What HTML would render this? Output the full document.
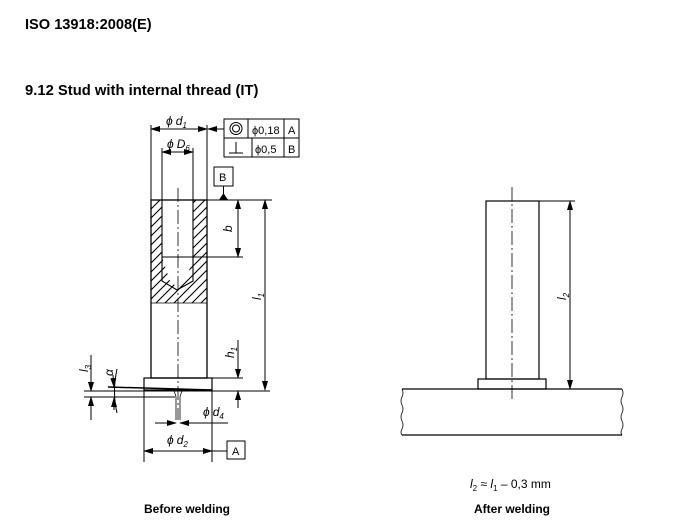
<!DOCTYPE html>
<html><head><meta charset="utf-8"><style>
html,body{margin:0;padding:0;background:#fff;width:700px;height:527px;overflow:hidden}
svg{display:block}
text{font-family:"Liberation Sans",sans-serif;fill:#000}
</style></head><body>
<svg width="700" height="527" viewBox="0 0 700 527" xmlns="http://www.w3.org/2000/svg">
<defs>
<pattern id="h" width="9" height="9" patternUnits="userSpaceOnUse">
<path d="M-1,10 L10,-1 M-2,2 L2,-2 M7,11 L11,7" stroke="#000" stroke-width="1.1"/></pattern>
<marker id="a" markerWidth="10" markerHeight="6" refX="9" refY="3" orient="auto" markerUnits="userSpaceOnUse"><path d="M0,0 L10,3 L0,6z" fill="#000"/></marker>
</defs>
<text x="25" y="29" font-size="14.6" font-weight="bold">ISO 13918:2008(E)</text>
<text x="25" y="95" font-size="14.8" font-weight="bold">9.12  Stud with internal thread (IT)</text>

<g stroke="#000" fill="none" stroke-width="1">
<path d="M151,200 H207 V303 H151z M162,200 V257 L170,281 L177,287 L186,281 L193,257 V200z" fill="url(#h)" fill-rule="evenodd" stroke="none"/>
<rect x="151" y="200" width="56" height="178" stroke-width="1.3"/>
<path d="M162,200 V281 L177,290 L193,281 V200 M162,257 H193" stroke-width="1.1"/>
<line x1="151" y1="303" x2="207" y2="303" stroke-width="0.8"/>
<line x1="178" y1="188" x2="178" y2="420" stroke-dasharray="14,3,2,3" stroke-width="0.8"/>
<rect x="144" y="378" width="68" height="12" stroke-width="1.2"/>
<path d="M108,387 L212,390" stroke-width="1.5"/>
<path d="M84,391 H270 M84,397 H175" stroke-width="0.9"/>
<path d="M174,391 Q176,396 176,397 V420 M182,391 Q180,396 180,397 V420" stroke-width="0.8"/>
<line x1="207" y1="200" x2="272" y2="200"/>
<line x1="193" y1="257" x2="243" y2="257"/>
<line x1="207" y1="378" x2="243" y2="378"/>
<line x1="238" y1="210" x2="238" y2="200" marker-end="url(#a)"/>
<line x1="238" y1="210" x2="238" y2="257" marker-end="url(#a)"/>
<line x1="265" y1="290" x2="265" y2="200" marker-end="url(#a)"/>
<line x1="265" y1="290" x2="265" y2="390" marker-end="url(#a)"/>
<line x1="238" y1="340" x2="238" y2="378" marker-end="url(#a)"/>
<line x1="238" y1="408" x2="238" y2="391" marker-end="url(#a)"/>
<line x1="151" y1="125" x2="151" y2="200"/><line x1="207" y1="125" x2="207" y2="200"/>
<line x1="162" y1="148" x2="162" y2="200"/><line x1="193" y1="148" x2="193" y2="200"/>
<line x1="178" y1="129" x2="151" y2="129" marker-end="url(#a)"/>
<line x1="178" y1="129" x2="207" y2="129" marker-end="url(#a)"/>
<line x1="178" y1="152" x2="162" y2="152" marker-end="url(#a)"/>
<line x1="178" y1="152" x2="193" y2="152" marker-end="url(#a)"/>
<line x1="224" y1="129" x2="208" y2="129" marker-end="url(#a)"/>
<rect x="224" y="119" width="75" height="38"/>
<line x1="224" y1="138" x2="299" y2="138"/>
<line x1="248" y1="119" x2="248" y2="138"/><line x1="252" y1="138" x2="252" y2="157"/>
<line x1="284" y1="119" x2="284" y2="157"/>
<circle cx="236" cy="128.5" r="6"/><circle cx="236" cy="128.5" r="3.5"/>
<path d="M229,153 H243 M236,153 V142"/>
<rect x="214" y="167" width="19" height="19"/>
<line x1="223.5" y1="186" x2="223.5" y2="196"/>
<path d="M219.5,200 L223.5,194 L227.5,200z" fill="#000"/>
<line x1="91" y1="355" x2="91" y2="391" marker-end="url(#a)"/>
<line x1="91" y1="420" x2="91" y2="397" marker-end="url(#a)"/>
<path d="M117,369 Q112,392 117,413"/>
<line x1="113" y1="375" x2="114" y2="387" marker-end="url(#a)"/>
<line x1="114" y1="410" x2="114" y2="398" marker-end="url(#a)"/>
<line x1="212" y1="390" x2="212" y2="462"/><line x1="144" y1="390" x2="144" y2="462"/>
<line x1="155" y1="423" x2="176" y2="423" marker-end="url(#a)"/>
<line x1="228" y1="423" x2="180" y2="423" marker-end="url(#a)"/>
<line x1="178" y1="451" x2="144" y2="451" marker-end="url(#a)"/>
<line x1="178" y1="451" x2="212" y2="451" marker-end="url(#a)"/>
<line x1="212" y1="451" x2="227" y2="451"/>
<rect x="227" y="441" width="18" height="18"/>

<rect x="486" y="201" width="53" height="178" stroke-width="1.2"/>
<rect x="478" y="379" width="68" height="10" stroke-width="1.2"/>
<path d="M402,389 H622 M402,435 H622" stroke-width="1.2"/>
<path d="M402,389 q2,4 0,8 q-2,4 0,8 q2,4 0,8 q-2,4 0,8 q2,4 0,8 q-2,4 0,6 M622,389 q2,4 0,8 q-2,4 0,8 q2,4 0,8 q-2,4 0,8 q2,4 0,8 q-2,4 0,6" stroke-width="0.8"/>
<line x1="512" y1="187" x2="512" y2="401" stroke-dasharray="14,3,2,3" stroke-width="0.8"/>
<line x1="539" y1="201" x2="575" y2="201"/>
<line x1="570" y1="290" x2="570" y2="201" marker-end="url(#a)"/>
<line x1="570" y1="290" x2="570" y2="389" marker-end="url(#a)"/>
</g>

<g font-size="12" font-style="italic">
<text x="166" y="125">ϕ<tspan dx="3">d</tspan><tspan font-size="8" dy="3">1</tspan></text>
<text x="167" y="148">ϕ<tspan dx="3">D</tspan><tspan font-size="8" dy="3">6</tspan></text>
<text x="203" y="416">ϕ<tspan dx="3">d</tspan><tspan font-size="8" dy="3">4</tspan></text>
<text x="167" y="444">ϕ<tspan dx="3">d</tspan><tspan font-size="8" dy="3">2</tspan></text>
<text transform="translate(232,232) rotate(-90)" font-size="12">b</text>
<text transform="translate(261,300) rotate(-90)">l<tspan font-size="8" dy="3">1</tspan></text>
<text transform="translate(234,358) rotate(-90)">h<tspan font-size="8" dy="3">1</tspan></text>
<text transform="translate(88,372) rotate(-90)">l<tspan font-size="8" dy="3">3</tspan></text>
<text transform="translate(113,376) rotate(-90)">α</text>
<text transform="translate(566,300) rotate(-90)">l<tspan font-size="8" dy="3">2</tspan></text>
</g>
<g font-size="11">
<text x="252" y="134">ϕ0,18</text><text x="288" y="134">A</text>
<text x="255" y="153">ϕ0,5</text><text x="288" y="153">B</text>
<text x="219" y="181">B</text>
<text x="232" y="455">A</text>
</g>
<text x="470" y="488" font-size="12"><tspan font-style="italic">l</tspan><tspan font-size="8" dy="3">2</tspan><tspan dy="-3"> ≈ </tspan><tspan font-style="italic">l</tspan><tspan font-size="8" dy="3">1</tspan><tspan dy="-3"> – 0,3 mm</tspan></text>
<text x="187" y="513" font-size="12" font-weight="bold" text-anchor="middle">Before welding</text>
<text x="512" y="513" font-size="12" font-weight="bold" text-anchor="middle">After welding</text>
</svg>
</body></html>
